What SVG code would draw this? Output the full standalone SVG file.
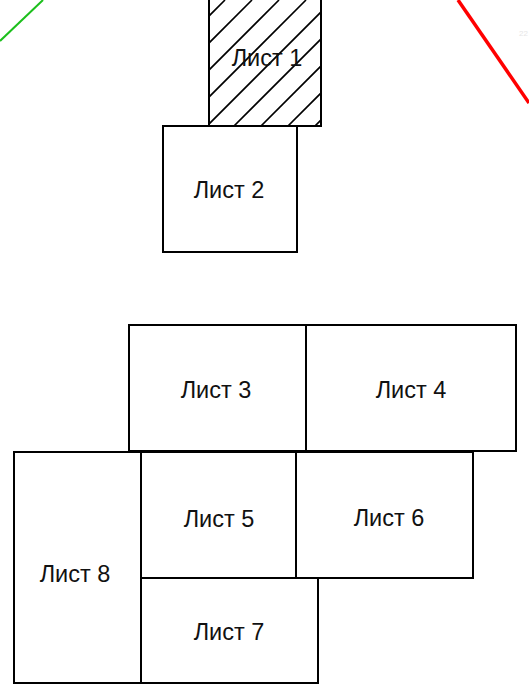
<svg xmlns="http://www.w3.org/2000/svg" width="529" height="687" viewBox="0 0 529 687">
<style>
.sheet{fill:#fff;stroke:#000;stroke-width:2}
.lbl{font-family:"Liberation Sans",Arial,sans-serif;font-size:23.5px;fill:#111;text-anchor:middle}
.hatch{stroke:#000;stroke-width:1.6;fill:none}
</style>
<defs>
<clipPath id="c1"><rect x="209" y="-10" width="112" height="136"/></clipPath>
</defs>
<g id="guides">
<line x1="0" y1="41" x2="43" y2="0" stroke="#1cbf1c" stroke-width="2"/>
<line x1="458" y1="0" x2="529" y2="103" stroke="#ff0000" stroke-width="3.5"/>
<text x="519" y="36" font-family="Liberation Sans,sans-serif" font-size="8" fill="#e6e6e6">22</text>
</g>
<g id="sheet1">
<rect class="sheet" x="209" y="-10" width="112" height="136"/>
<g clip-path="url(#c1)">
<path class="hatch" d="M225,0 L75,150 M252,0 L102,150 M279,0 L129,150 M306,0 L156,150 M333,0 L183,150 M360,0 L210,150 M387,0 L237,150 M414,0 L264,150 M441,0 L291,150"/>
</g>
<rect x="209" y="-10" width="112" height="136" fill="none" stroke="#000" stroke-width="2"/>
<text class="lbl" x="267" y="66">Лист 1</text>
</g>
<g id="sheet2">
<rect class="sheet" x="163" y="126" width="134" height="126"/>
<text class="lbl" x="229" y="198">Лист 2</text>
</g>
<g id="sheet3">
<rect class="sheet" x="129" y="325" width="177" height="126"/>
<text class="lbl" x="216" y="398">Лист 3</text>
</g>
<g id="sheet4">
<rect class="sheet" x="306" y="325" width="210" height="126"/>
<text class="lbl" x="411" y="398">Лист 4</text>
</g>
<g id="sheet8">
<rect class="sheet" x="14" y="452" width="127" height="231"/>
<text class="lbl" x="75" y="582">Лист 8</text>
</g>
<g id="sheet5">
<rect class="sheet" x="141" y="452" width="155" height="126"/>
<text class="lbl" x="219" y="527">Лист 5</text>
</g>
<g id="sheet6">
<rect class="sheet" x="296" y="452" width="177" height="126"/>
<text class="lbl" x="389" y="526">Лист 6</text>
</g>
<g id="sheet7">
<rect class="sheet" x="141" y="578" width="177" height="105"/>
<text class="lbl" x="229" y="640">Лист 7</text>
</g>
<g id="connectors"></g>
</svg>
